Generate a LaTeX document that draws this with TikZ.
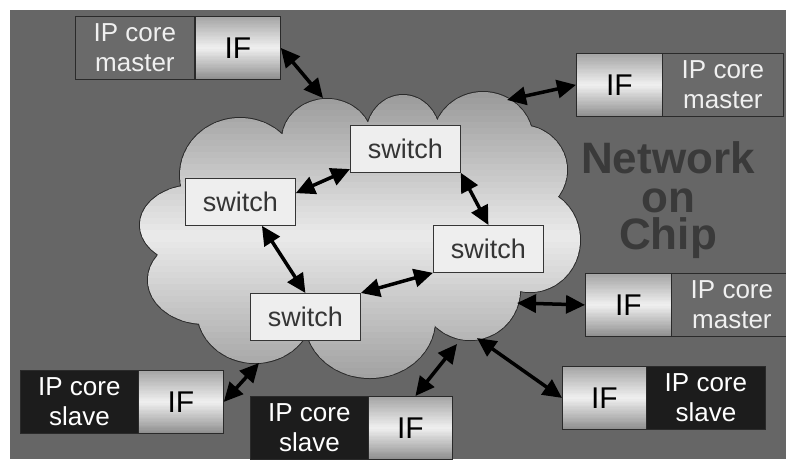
\documentclass[tikz,border=0pt]{standalone}
\usepackage{fontspec}
\setmainfont{Liberation Sans}
\usetikzlibrary{arrows.meta,calc}
\definecolor{bg}{HTML}{666666}
\definecolor{ipmfill}{HTML}{6A6A6A}
\definecolor{ipsfill}{HTML}{1C1C1C}
\definecolor{edge}{HTML}{2A2A2A}
\definecolor{ifdark}{HTML}{A2A2A2}
\definecolor{iflight}{HTML}{F0F0F0}
\definecolor{ifbot}{HTML}{8E8E8E}
\definecolor{cloudtop}{HTML}{999999}
\definecolor{cloudmid}{HTML}{EBEBEB}
\definecolor{cloudbot}{HTML}{A0A0A0}
\definecolor{swfill}{HTML}{EEEEEE}
\definecolor{swtext}{HTML}{353535}
\definecolor{noctext}{HTML}{3A3A3A}
\pgfdeclarelayer{back}
\pgfdeclarelayer{grad}
\pgfsetlayers{back,grad,main}
\tikzset{
  ipm/.style={draw=edge, line width=0.8pt, fill=ipmfill, text=white!94!black, font=\fontsize{26}{30}\selectfont, align=center, inner sep=0pt, anchor=north west, minimum height=63pt},
  ips/.style={ipm, fill=ipsfill, text=white},
  ifbox/.style={draw=edge, line width=0.8pt, font=\fontsize{30}{30}\selectfont, inner sep=0pt, anchor=north west, minimum height=63pt, minimum width=85pt},
  swbox/.style={draw=swtext, line width=0.8pt, fill=swfill, text=swtext, font=\fontsize{27}{27}\selectfont, inner sep=0pt, anchor=north west, minimum width=110pt, minimum height=47pt},
  link/.style={{Triangle[length=19pt,width=18pt]}-{Triangle[length=19pt,width=18pt]}, line width=3.5pt, black},
  noc/.style={text=noctext, font=\fontsize{44}{44}\selectfont\bfseries, anchor=base, inner sep=0pt, text height=31pt, text depth=0pt}
}
% vertical three-colour gradient made of strips
\newcommand\stripgrad[6]{% #1 NW, #2 NE, #3 SW, #4 SE, #5 top, #6 mid ; bottom colour in \gradbot
  \foreach \i in {0,...,47}{%
    \pgfmathsetmacro\ta{\i/48}%
    \pgfmathsetmacro\tb{min((\i+1.25)/48,1)}%
    \ifnum\i<24
      \pgfmathsetmacro\p{100*(\i+0.5)/24}%
      \colorlet{gc}{#6!\p!#5}%
    \else
      \pgfmathsetmacro\p{100*(47.5-\i)/24}%
      \colorlet{gc}{#6!\p!\gradbot}%
    \fi
    \fill[gc] ($#1!\ta!#3$) rectangle ($#2!\tb!#4$);
  }}
\newcommand\ifgrad[1]{\def\gradbot{ifbot}\stripgrad{(#1.north west)}{(#1.north east)}{(#1.south west)}{(#1.south east)}{ifdark}{iflight}}
\begin{document}
\begin{tikzpicture}[x=1pt,y=-1pt]
\useasboundingbox (0,0) rectangle (786,459);
\begin{pgfonlayer}{back}
\fill[white] (0,0) rectangle (786,459);
\fill[bg] (10,10) rectangle (786,459);
% cloud
\def\cloudparts{(240,175) ellipse [x radius=60pt, y radius=57pt]
 (327,140) ellipse [x radius=45pt, y radius=41pt]
 (403,136) ellipse [x radius=37pt, y radius=41pt]
 (483,140) ellipse [x radius=50pt, y radius=48pt]
 (520,170) ellipse [x radius=47pt, y radius=45pt]
 (530,240) ellipse [x radius=50pt, y radius=52pt]
 (470,290) ellipse [x radius=50pt, y radius=50pt]
 (370,320) ellipse [x radius=65pt, y radius=58pt]
 (255,310) ellipse [x radius=58pt, y radius=53pt]
 (205,280) ellipse [x radius=57pt, y radius=44pt]
 (195,225) ellipse [x radius=55pt, y radius=40pt]
 (360,230) ellipse [x radius=150pt, y radius=100pt]}
\draw[line width=2pt, draw=edge] \cloudparts;
\begin{scope}
\clip \cloudparts;
\def\gradbot{cloudbot}
\stripgrad{(120,92)}{(600,92)}{(120,380)}{(600,380)}{cloudtop}{cloudmid}
\end{scope}
\end{pgfonlayer}
% switches
\node[swbox] (sw1) at (350,125) {switch};
\node[swbox] (sw2) at (185,178) {switch};
\node[swbox] (sw3) at (433,225) {switch};
\node[swbox] (sw4) at (250,293) {switch};
\draw[link] (sw2.9) -- (sw1.200);
\draw[link] (sw1.south east) -- (sw3.north);
\draw[link] (sw2.-48) -- (sw4.north);
\draw[link] (sw4.north east) -- (sw3.south west);
% title
\node[noc] (t1) at (668,173) {Network};
\node[noc] (t2) at (668,212) {on};
\node[noc] (t3) at (668,249) {Chip};
% IP cores
\node[ipm, minimum width=119pt] (m1) at (75,16) {IP core\\master};
\node[ifbox] (if1) at (195,16) {IF};
\node[ifbox, minimum width=86pt] (if2) at (576,53) {IF};
\node[ipm, minimum width=121pt] (m2) at (662,53) {IP core\\master};
\node[ifbox, minimum width=86pt] (if3) at (585,273) {IF};
\node[ipm, minimum width=121pt] (m3) at (671,273) {IP core\\master};
\node[ifbox, minimum width=84pt] (if4) at (562,366) {IF};
\node[ips, minimum width=119pt] (s1) at (646,366) {IP core\\slave};
\node[ips, minimum width=118pt] (s2) at (20,370) {IP core\\slave};
\node[ifbox] (if5) at (138,370) {IF};
\node[ips, minimum width=118pt] (s3) at (250,396) {IP core\\slave};
\node[ifbox, minimum width=84pt] (if6) at (368,396) {IF};
\begin{pgfonlayer}{grad}
\ifgrad{if1}\ifgrad{if2}\ifgrad{if3}\ifgrad{if4}\ifgrad{if5}\ifgrad{if6}
\end{pgfonlayer}
% cloud ports
\coordinate (c1) at (323,98);
\coordinate (c2) at (507,100);
\coordinate (c3) at (517,303);
\coordinate (c4) at (477,338);
\coordinate (c5) at (259,363);
\coordinate (c6) at (457,344);
\draw[link] (if1.east) -- (c1);
\draw[link] (c2) -- (if2.west);
\draw[link] (c3) -- (if3.west);
\draw[link] (c4) -- (if4.west);
\draw[link] (if5.east) -- (c5);
\draw[link] ([xshift=5pt]if6.north) -- (c6);
\end{tikzpicture}
\end{document}
